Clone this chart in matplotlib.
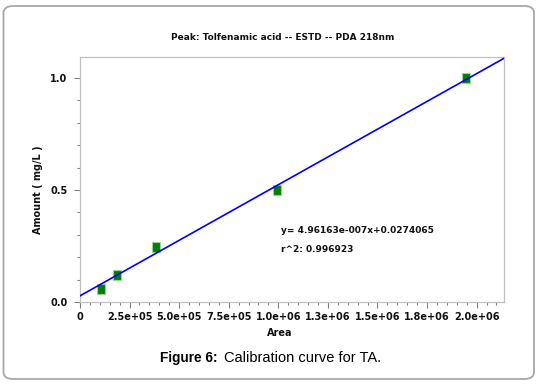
import matplotlib
matplotlib.use("Agg")
import matplotlib.pyplot as plt
from matplotlib.patches import FancyBboxPatch
from matplotlib.ticker import MultipleLocator, FixedLocator
import numpy as np

# data
area = [1.06e5, 1.85e5, 3.84e5, 9.91e5, 1.944e6]
amount = [0.058, 0.121, 0.245, 0.498, 1.0]
slope = 4.96163e-007
intercept = 0.0274065
r2 = 0.996923
xticks = [0, 2.5e5, 5.0e5, 7.5e5, 1.0e6, 1.25e6, 1.5e6, 1.75e6, 2.0e6]
xticklabels = ["0", "2.5e+05", "5.0e+05", "7.5e+05", "1.0e+06", "1.3e+06",
               "1.5e+06", "1.8e+06", "2.0e+06"]
yticks = [0.0, 0.5, 1.0]
yticklabels = ["0.0", "0.5", "1.0"]

W, H = 539, 385
fig = plt.figure(figsize=(W / 100, H / 100), dpi=100)

# outer rounded box
box = FancyBboxPatch((3.5 / W, 6 / H), (534 - 3.5) / W, (379 - 6) / H,
                     boxstyle="round,pad=0,rounding_size=0.018",
                     transform=fig.transFigure, fill=False,
                     edgecolor="#a8a8a8", linewidth=1.3)
fig.patches.append(box)

ax = fig.add_axes([80 / W, 1 - 302 / H, (504 - 80) / W, (302 - 57) / H])
xmax = 2.138e6
ymax = 1.094
ax.set_xlim(0, xmax)
ax.set_ylim(0, ymax)

xs = np.array([0, xmax])
ax.plot(xs, slope * xs + intercept, color="#0000ff", lw=1.2, zorder=3)
rect = [(-0.7, -1), (0.7, -1), (0.7, 1), (-0.7, 1), (-0.7, -1)]
ax.plot(area, amount, linestyle="none", marker=rect, markersize=7.5,
        markerfacecolor="#008000", markeredgecolor="#9ad29a",
        markeredgewidth=0.8, zorder=2)

for s in ax.spines.values():
    s.set_color("#c0c0c0")
    s.set_linewidth(0.9)

ax.xaxis.set_major_locator(FixedLocator(xticks))
ax.set_xticklabels(xticklabels)
ax.xaxis.set_minor_locator(MultipleLocator(5e4))
ax.yaxis.set_major_locator(FixedLocator(yticks))
ax.set_yticklabels(yticklabels)
ax.yaxis.set_minor_locator(MultipleLocator(0.1))
ax.tick_params(which="major", length=4, width=0.8, color="#808080",
               labelsize=7, labelcolor="#111111")
ax.tick_params(axis="y", which="major", pad=5)
ax.tick_params(axis="x", which="major", pad=3)
ax.tick_params(which="minor", length=2.5, width=0.8, color="#808080")
for lab in ax.get_xticklabels() + ax.get_yticklabels():
    lab.set_fontweight("bold")

fig.text(283 / W, 1 - 38 / H, "Peak: Tolfenamic acid -- ESTD -- PDA 218nm",
         ha="center", va="center", fontsize=6.5, fontweight="bold", color="#111111")
fig.text(280 / W, 1 - 333 / H, "Area", ha="center", va="center",
         fontsize=7, fontweight="bold", color="#111111")
fig.text(38 / W, 1 - 190 / H, "Amount ( mg/L )", ha="center", va="center",
         rotation=90, fontsize=7, fontweight="bold", color="#111111")

fig.text(281 / W, 1 - 230.5 / H, "y= 4.96163e-007x+0.0274065", ha="left",
         va="center", fontsize=6.5, fontweight="bold", color="#111111")
fig.text(281 / W, 1 - 249 / H, "r^2: %.6f" % r2, ha="left", va="center",
         fontsize=6.5, fontweight="bold", color="#111111")

t1 = fig.text(160 / W, 1 - 358 / H, "Figure 6:", ha="left", va="center",
              fontsize=9.8, fontweight="bold", family="Liberation Sans")
renderer = fig.canvas.get_renderer()
bb = t1.get_window_extent(renderer=renderer)
fig.text(bb.x1 / W + 7 / W, 1 - 358 / H, "Calibration curve for TA.", ha="left",
         va="center", fontsize=10.5, family="Liberation Sans")

fig.savefig("out.png", dpi=100)
